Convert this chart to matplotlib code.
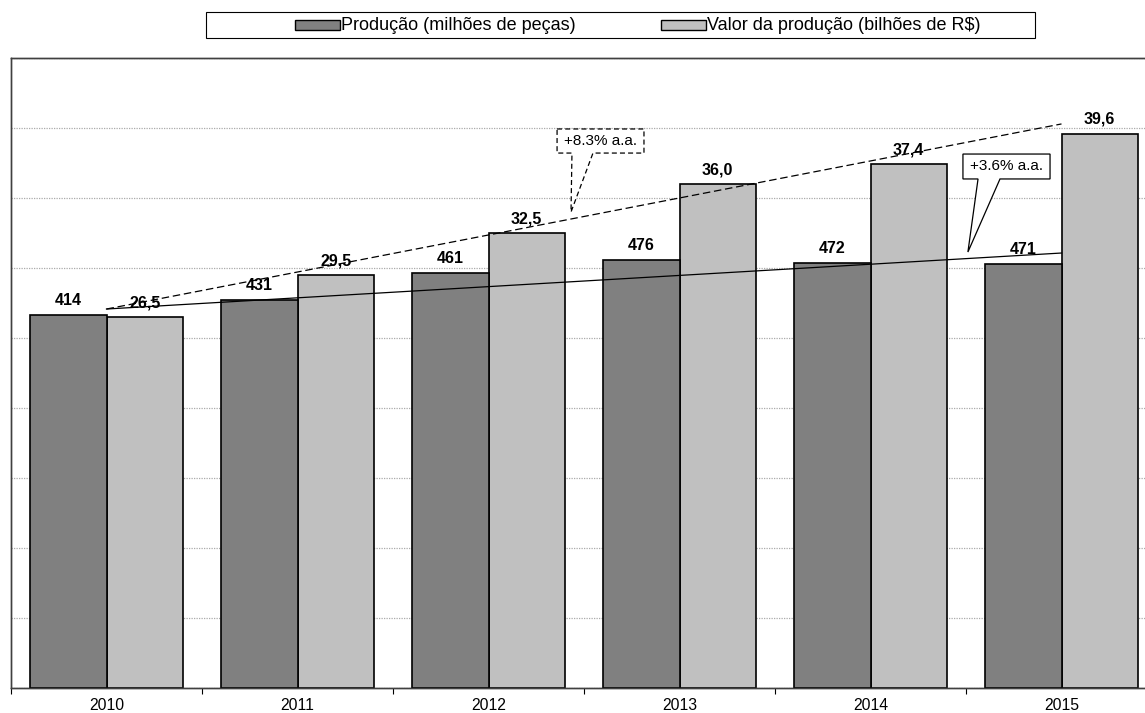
import numpy as np
import matplotlib
matplotlib.use('Agg')
from matplotlib import pyplot as plt
from matplotlib.patches import Polygon, Rectangle

plt.rcParams['font.family'] = ['Liberation Sans', 'DejaVu Sans']

anos = ['2010', '2011', '2012', '2013', '2014', '2015']
producao = [414, 431, 461, 476, 472, 471]          # milhões de peças
valor = [26.5, 29.5, 32.5, 36.0, 37.4, 39.6]       # bilhões de R$

# linhas de tendência (em unidades do eixo de valor)
tend_x = [0, 5]
tend_valor = [27.07, 40.29]
tend_prod = [27.07, 31.07]

cor_prod = '#808080'
cor_valor = '#C0C0C0'

fig = plt.figure(figsize=(11.45, 7.13), dpi=100)
W, H = 1145, 713
ax = fig.add_axes([11 / W, 25 / H, 1146 / W, 630 / H])
ax2 = ax.twinx()

x = np.arange(len(anos))

# valor no eixo de baixo (grade a cada 5), produção no eixo gêmeo
ax.bar(x + 0.2, valor, width=0.4, color=cor_valor, edgecolor='black',
       linewidth=1.2, zorder=2)
ax2.bar(x - 0.2, producao, width=0.4, color=cor_prod, edgecolor='black',
        linewidth=1.2, zorder=2)

ax.set_xlim(-0.5, 5.5)
ax.set_ylim(0, 45)
ax2.set_ylim(0, 700)

ax.set_yticks(np.arange(0, 46, 5))
ax.yaxis.grid(True, color='#ababab', linestyle=(0, (1, 1)), linewidth=0.9)
ax.set_axisbelow(True)
ax.tick_params(axis='y', length=0, labelleft=False)
ax2.tick_params(axis='y', length=0, labelright=False)

ax.set_xticks(x, anos)
ax.set_xticks(np.arange(-0.5, 6, 1), minor=True)
ax.tick_params(axis='x', which='major', length=0, pad=7, labelsize=11.3)
ax.tick_params(axis='x', which='minor', length=4, width=0.8)

for a in (ax, ax2):
    for s in a.spines.values():
        s.set_linewidth(1.0)
        s.set_color('#404040')

# rótulos das barras
for xi, p in zip(x, producao):
    ax2.annotate(f'{p:.0f}', (xi - 0.2, p), xytext=(0, 5),
                 textcoords='offset points', ha='center', va='bottom',
                 fontsize=11.5, fontweight='bold', zorder=6)
for xi, v in zip(x, valor):
    ax2.annotate(f'{v:.1f}'.replace('.', ','), (xi + 0.2, v),
                 xycoords=ax.transData, xytext=(0, 5),
                 textcoords='offset points', ha='center', va='bottom',
                 fontsize=11.5, fontweight='bold', zorder=6)

# tendências
ax2.plot(tend_x, tend_valor, transform=ax.transData, color='black',
         linewidth=0.9, linestyle=(0, (6, 3)), zorder=5)
ax2.plot(tend_x, tend_prod, transform=ax.transData, color='black',
         linewidth=0.9, zorder=5)


def balao(x0, x1, y0, y1, b0, b1, ponta, texto, ls):
    verts = [(x0, y1), (x1, y1), (x1, y0), (b1, y0), ponta, (b0, y0), (x0, y0)]
    ax2.add_patch(Polygon(verts, closed=True, facecolor='white',
                          edgecolor='black', linewidth=0.9, linestyle=ls,
                          transform=ax.transData, zorder=7))
    ax2.text((x0 + x1) / 2, (y0 + y1) / 2, texto, transform=ax.transData,
             ha='center', va='center', fontsize=11, zorder=8)


balao(2.359, 2.814, 38.21, 39.93, 2.437, 2.547, (2.432, 34.0),
      '+8.3% a.a.', (0, (4, 2.5)))
balao(4.484, 4.940, 36.36, 38.14, 4.563, 4.678, (4.510, 31.14),
      '+3.6% a.a.', '-')

# legenda
fig.patches.append(Rectangle((206 / W, 1 - 38 / H), 829 / W, 26 / H,
                             transform=fig.transFigure, fill=False,
                             edgecolor='black', linewidth=0.8))
for x0, cor, txt in [(295, cor_prod, 'Produção (milhões de peças)'),
                     (661, cor_valor, 'Valor da produção (bilhões de R$)')]:
    fig.patches.append(Rectangle((x0 / W, 1 - 30 / H), 45 / W, 10 / H,
                                 transform=fig.transFigure, facecolor=cor,
                                 edgecolor='black', linewidth=1.0))
    fig.text((x0 + 46) / W, 1 - 25 / H, txt, ha='left', va='center',
             fontsize=13)

plt.savefig('out.png', dpi=100)
